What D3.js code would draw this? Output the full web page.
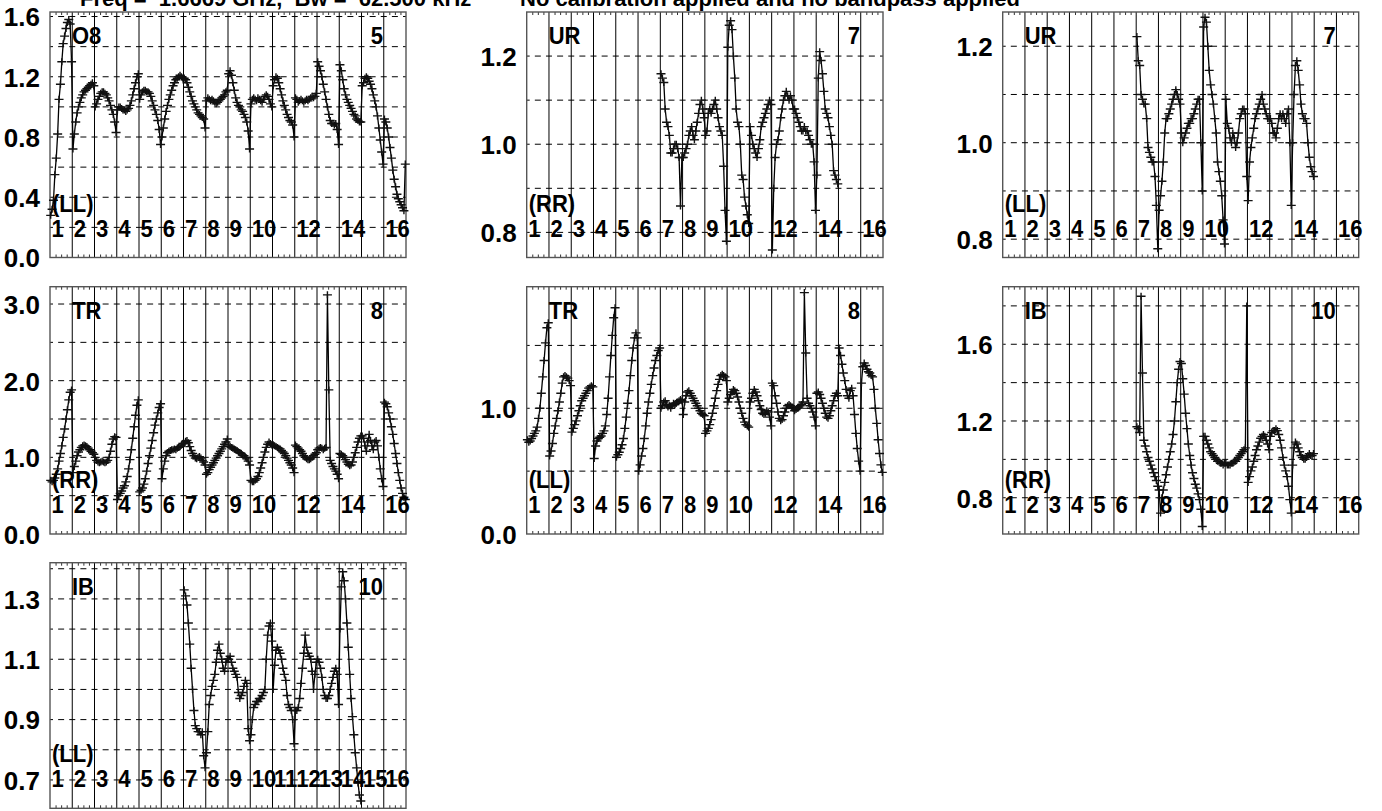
<!DOCTYPE html>
<html><head><meta charset="utf-8">
<script src="https://cdn.jsdelivr.net/npm/d3@7"></script>
<style>
body{margin:0;background:#fff;}
svg text{font-family:"Liberation Sans",Arial,Helvetica,sans-serif;font-weight:bold;fill:#000;}
</style></head><body>
<svg id="c" width="1382" height="811"></svg>
<script>
const titleLeft = "Freq =  1.6669 GHz,  Bw =  62.500 kHz ";
const titleRight = "No calibration applied and no bandpass applied";
const ifLabels = ["1","2","3","4","5","6","7","8","9","10","11","12","13","14","15","16"];
const ifLabelsShort = ["1","2","3","4","5","6","7","8","9","10","","12","","14","","16"];
const N = null;

// ---- panel 1 : O8, antenna 5, LL ----
const O8_5_LL = [
 [0.28,0.32,0.38,0.55,0.66,0.82,1.05,1.15,1.30,1.42,1.47,1.52,1.56,1.58,1.55,1.30],
 [0.72,0.82,0.90,0.96,1.00,1.03,1.06,1.08,1.10,1.11,1.12,1.13,1.14,1.15,1.16,1.14],
 [1.00,1.02,1.05,1.07,1.09,1.10,1.10,1.09,1.08,1.06,1.04,1.01,0.98,0.95,0.90,0.83],
 [0.98,1.00,1.00,0.99,0.98,0.98,0.97,0.98,0.99,1.01,1.04,1.08,1.12,1.16,1.20,1.22],
 [1.05,1.08,1.10,1.11,1.11,1.10,1.10,1.09,1.07,1.04,1.01,0.98,0.95,0.91,0.85,0.75],
 [0.80,0.86,0.92,0.97,1.01,1.05,1.08,1.11,1.14,1.16,1.18,1.19,1.20,1.21,1.20,1.19],
 [1.19,1.18,1.16,1.13,1.10,1.07,1.04,1.02,1.00,0.98,0.96,0.95,0.94,0.93,0.92,0.86],
 [1.04,1.06,1.05,1.04,1.05,1.04,1.03,1.02,1.03,1.04,1.05,1.06,1.07,1.08,1.10,1.11],
 [1.22,1.24,1.21,1.16,1.11,1.06,1.03,1.01,1.00,0.98,0.97,0.95,0.93,0.90,0.84,0.72],
 [1.02,1.05,1.06,1.05,1.04,1.06,1.05,1.04,1.03,1.05,1.07,1.08,1.07,1.05,1.02,1.00],
 [1.14,1.18,1.20,1.19,1.16,1.12,1.08,1.04,1.01,0.98,0.95,0.93,0.91,0.90,0.88,0.80],
 [1.06,1.05,1.03,1.04,1.05,1.04,1.03,1.04,1.05,1.04,1.05,1.06,1.07,1.06,1.07,1.09],
 [1.30,1.27,1.24,1.20,1.15,1.10,1.05,1.00,0.95,0.91,0.89,0.89,0.88,0.89,0.85,0.75],
 [1.28,1.24,1.18,1.12,1.08,1.05,1.03,1.01,0.99,0.97,0.95,0.94,0.92,0.91,0.90,0.90],
 [1.14,1.16,1.19,1.20,1.19,1.17,1.15,1.12,1.08,1.04,1.00,0.94,0.86,0.78,0.70,0.62],
 [0.92,0.90,0.86,0.80,0.73,0.66,0.58,0.52,0.47,0.42,0.39,0.37,0.35,0.33,0.31,0.62]
];
// ---- panel 2 : UR, antenna 7, RR ----
const UR_7_RR = [N,N,N,N,N,N,
 [1.16,1.15,1.14,1.08,1.05,1.04,1.02,0.98,0.98,0.99,1.00,1.00,0.99,0.97,0.86,0.97],
 [0.97,0.98,0.99,1.00,1.02,1.03,1.04,1.02,1.01,1.03,1.05,1.07,1.09,1.10,1.08,1.06],
 [1.02,1.03,1.07,1.08,1.07,1.08,1.09,1.10,1.08,1.06,1.04,1.03,1.02,0.95,0.85,0.78],
 [1.22,1.27,1.28,1.26,1.20,1.15,1.08,1.05,1.04,1.00,0.93,0.92,0.88,0.86,0.84,0.82],
 [1.04,1.02,1.00,0.99,0.98,0.97,0.99,1.01,1.04,1.05,1.06,1.07,1.08,1.09,1.10,1.09],
 [0.76,0.90,0.97,1.00,1.01,1.03,1.06,1.08,1.10,1.11,1.12,1.11,1.10,1.11,1.10,1.08],
 [1.08,1.07,1.06,1.05,1.04,1.03,1.03,1.04,1.03,1.03,1.02,1.01,1.00,1.00,0.96,0.85],
 [0.93,1.15,1.21,1.19,1.16,1.12,1.08,1.07,1.06,1.04,1.02,1.00,0.94,0.93,0.92,0.91],
 N,N];
// ---- panel 3 : UR, antenna 7, LL ----
const UR_7_LL = [N,N,N,N,N,N,
 [1.22,1.17,1.16,1.10,1.09,1.08,1.08,1.05,0.99,0.98,0.97,0.96,0.96,0.93,0.87,0.78],
 [0.86,0.89,0.92,0.96,1.02,1.05,1.05,1.06,1.07,1.08,1.09,1.10,1.11,1.10,1.09,1.08],
 [1.02,1.00,1.01,1.02,1.03,1.04,1.04,1.05,1.05,1.06,1.07,1.08,1.09,1.09,1.00,0.90],
 [1.24,1.26,1.25,1.20,1.15,1.12,1.10,1.08,1.05,1.02,0.96,0.94,0.92,0.89,0.84,0.79],
 [1.09,1.04,1.03,1.01,1.00,1.02,1.01,0.99,1.00,1.02,1.05,1.06,1.07,1.07,1.06,0.93],
 [0.88,0.96,0.99,1.01,1.03,1.05,1.06,1.07,1.08,1.09,1.10,1.08,1.07,1.06,1.05,1.05],
 [1.05,1.04,1.02,1.02,1.01,1.03,1.05,1.06,1.05,1.06,1.05,1.04,1.06,1.07,1.00,0.87],
 [1.00,1.10,1.16,1.17,1.15,1.12,1.08,1.06,1.05,1.05,1.04,1.00,0.97,0.95,0.94,0.93],
 N,N];
// ---- panel 4 : TR, antenna 8, RR ----
const TR_8_RR = [
 [0.70,0.68,0.70,0.73,0.78,0.85,0.95,1.05,1.15,1.26,1.37,1.50,1.62,1.75,1.85,1.88],
 [0.80,0.88,0.95,1.02,1.07,1.10,1.13,1.15,1.16,1.15,1.14,1.12,1.10,1.08,1.06,1.04],
 [1.00,0.96,0.94,0.93,0.94,0.95,0.94,0.93,0.94,0.96,1.00,1.08,1.17,1.24,1.27,1.26],
 [0.45,0.50,0.53,0.56,0.60,0.63,0.68,0.75,0.85,0.97,1.10,1.25,1.40,1.55,1.68,1.75],
 [0.55,0.57,0.60,0.65,0.72,0.82,0.92,1.02,1.12,1.22,1.32,1.42,1.50,1.58,1.65,1.70],
 [0.72,0.85,0.95,1.02,1.06,1.08,1.09,1.10,1.10,1.11,1.10,1.12,1.13,1.14,1.16,1.18],
 [1.18,1.21,1.22,1.19,1.14,1.09,1.05,1.02,0.99,0.98,1.00,1.01,0.99,0.96,0.94,0.90],
 [0.78,0.80,0.84,0.87,0.90,0.93,0.96,0.99,1.02,1.05,1.08,1.11,1.14,1.17,1.20,1.24],
 [1.16,1.14,1.13,1.12,1.11,1.10,1.09,1.07,1.06,1.05,1.03,1.02,1.00,0.98,0.95,0.90],
 [0.70,0.68,0.68,0.70,0.72,0.75,0.80,0.86,0.93,1.00,1.07,1.13,1.17,1.20,1.18,1.16],
 [1.16,1.15,1.14,1.13,1.12,1.11,1.09,1.07,1.05,1.02,0.99,0.96,0.93,0.90,0.86,0.80],
 [1.16,1.14,1.12,1.10,1.08,1.05,1.02,1.00,0.98,0.97,0.97,0.98,1.00,1.02,1.04,1.06],
 [1.10,1.12,1.13,1.12,1.10,1.12,1.13,3.12,1.88,0.96,0.92,0.88,0.85,0.82,0.78,0.72],
 [1.05,1.04,1.02,1.00,0.97,0.94,0.91,0.89,0.90,0.94,1.00,1.06,1.13,1.20,1.25,1.28],
 [1.28,1.25,1.15,1.08,1.20,1.30,1.22,1.15,1.10,1.20,1.22,1.15,1.00,0.85,0.72,0.62],
 [1.72,1.70,1.66,1.58,1.50,1.40,1.30,1.18,1.05,0.92,0.80,0.70,0.60,0.53,0.48,0.45]
];
// ---- panel 5 : TR, antenna 8, LL ----
const TR_8_LL = [
 [0.75,0.73,0.74,0.76,0.78,0.80,0.82,0.85,0.92,1.00,1.12,1.25,1.38,1.52,1.64,1.68],
 [0.62,0.66,0.72,0.80,0.86,0.92,0.98,1.05,1.12,1.20,1.25,1.26,1.25,1.24,1.22,1.18],
 [0.81,0.84,0.87,0.90,0.94,0.98,1.02,1.06,1.08,1.10,1.12,1.14,1.16,1.17,1.18,1.17],
 [0.60,0.70,0.74,0.76,0.77,0.78,0.80,0.82,0.86,0.95,1.08,1.25,1.42,1.58,1.72,1.80],
 [0.61,0.63,0.65,0.68,0.71,0.76,0.84,0.93,1.04,1.14,1.26,1.38,1.48,1.56,1.60,1.56],
 [0.50,0.55,0.62,0.68,0.76,0.86,0.96,1.05,1.12,1.19,1.26,1.32,1.38,1.42,1.46,1.48],
 [1.00,1.02,1.05,1.06,1.03,1.01,1.02,1.00,1.02,1.04,1.03,1.04,1.05,1.06,1.07,1.06],
 [0.95,1.05,1.10,1.13,1.14,1.12,1.10,1.08,1.06,1.04,1.02,1.00,0.98,0.96,0.95,0.94],
 [0.80,0.82,0.84,0.87,0.91,0.96,1.02,1.08,1.14,1.19,1.23,1.26,1.27,1.26,1.25,1.22],
 [1.05,1.08,1.11,1.13,1.15,1.14,1.12,1.09,1.05,1.00,0.96,0.92,0.89,0.87,0.86,0.85],
 [1.05,1.08,1.12,1.15,1.13,1.10,1.06,1.02,0.99,0.96,0.95,0.96,0.98,0.97,0.93,0.86],
 [1.20,1.18,1.10,1.04,0.97,0.92,0.90,0.91,0.94,0.97,1.00,1.02,1.03,1.02,1.01,1.00],
 [0.98,0.99,1.00,1.01,1.02,1.03,1.05,1.92,1.44,1.08,1.04,1.02,1.00,0.97,0.93,0.86],
 [1.12,1.13,1.11,1.08,1.04,1.00,0.96,0.93,0.92,0.94,0.98,1.02,1.06,1.10,1.12,1.10],
 [1.48,1.42,1.35,1.28,1.22,1.15,1.10,1.08,1.14,1.16,1.10,0.95,0.80,0.68,0.58,0.50],
 [1.20,1.33,1.36,1.34,1.31,1.29,1.28,1.26,1.25,1.15,1.00,0.88,0.75,0.64,0.55,0.49]
];
// ---- panel 6 : IB, antenna 10, RR ----
const IB_10_RR = [N,N,N,N,N,N,
 [1.17,1.16,1.14,1.85,1.45,1.10,1.07,1.04,1.01,0.99,0.97,0.95,0.93,0.91,0.89,0.86],
 [0.84,0.72,0.80,0.84,0.88,0.92,0.96,1.00,1.04,1.08,1.13,1.20,1.30,1.40,1.47,1.51],
 [1.50,1.42,1.34,1.24,1.16,1.08,1.02,0.97,0.93,0.90,0.87,0.85,0.82,0.79,0.74,0.65],
 [1.12,1.12,1.10,1.08,1.06,1.04,1.03,1.02,1.01,1.00,0.99,0.99,0.98,0.98,0.97,0.98],
 [0.98,0.97,0.97,0.97,0.98,0.98,0.99,0.99,1.00,1.01,1.02,1.03,1.04,1.05,1.06,1.80],
 [0.88,0.91,0.94,0.96,0.99,1.02,1.05,1.07,1.09,1.11,1.12,1.13,1.12,1.10,1.08,1.05],
 [1.12,1.14,1.15,1.15,1.16,1.15,1.13,1.10,1.06,1.01,0.97,0.94,0.91,0.86,0.79,0.72],
 [0.97,1.06,1.09,1.08,1.06,1.04,1.02,1.01,1.00,1.00,1.01,1.02,1.03,1.02,1.02,1.03],
 N,N];
// ---- panel 7 : IB, antenna 10, LL ----
const IB_10_LL = [N,N,N,N,N,N,
 [1.33,1.31,1.28,1.22,1.15,1.07,1.00,0.93,0.88,0.87,0.86,0.86,0.85,0.86,0.78,0.74],
 [0.79,0.86,0.95,0.98,1.01,1.03,1.05,1.09,1.13,1.15,1.12,1.10,1.07,1.06,1.09,1.10],
 [1.10,1.11,1.09,1.07,1.06,1.05,1.04,0.99,0.97,0.98,0.99,1.01,1.03,1.02,0.87,0.83],
 [0.85,0.90,0.94,0.95,0.96,0.96,0.97,0.97,0.98,0.99,1.00,1.10,1.18,1.21,1.22,1.16],
 [1.00,1.08,1.13,1.14,1.13,1.12,1.10,1.07,1.05,1.03,0.98,0.95,0.94,0.93,0.90,0.82],
 [0.93,0.93,0.94,0.97,1.02,1.07,1.12,1.18,1.14,1.12,1.11,1.10,1.06,1.00,1.05,1.09],
 [1.10,1.09,1.07,1.04,1.00,0.98,0.97,0.97,0.98,1.00,1.02,1.04,1.06,1.07,1.05,0.95],
 [1.20,1.34,1.39,1.36,1.30,1.22,1.14,1.05,0.97,0.91,0.85,0.79,0.74,0.69,0.65,0.63],
 N,N];

// tick values per panel
const tick1 = [0.0,0.4,0.8,1.2,1.6],  grid1 = [0.2,0.4,0.6,0.8,1.0,1.2,1.4,1.6];
const tick2 = [0.8,1.0,1.2],          grid2 = [0.8,0.9,1.0,1.1,1.2];
const tick4 = [0.0,1.0,2.0,3.0],      grid4 = [0.5,1.0,1.5,2.0,2.5,3.0];
const tick5 = [0.0,1.0],              grid5 = [0.5,1.0,1.5];
const tick6 = [0.8,1.2,1.6],          grid6 = [0.8,1.0,1.2,1.4,1.6,1.8];
const tick7 = [0.7,0.9,1.1,1.3],      grid7 = [0.7,0.8,0.9,1.0,1.1,1.2,1.3,1.4];

const panels = [
 {src:"O8", ant:"5",  pol:"(LL)", data:O8_5_LL,  ticks:tick1, grid:grid1, dom:[0,1.63],     box:[50,12,406,257.5],        labs:ifLabelsShort},
 {src:"UR", ant:"7",  pol:"(RR)", data:UR_7_RR,  ticks:tick2, grid:grid2, dom:[0.743,1.30], box:[526.7,12,883,257.5],     labs:ifLabelsShort},
 {src:"UR", ant:"7",  pol:"(LL)", data:UR_7_LL,  ticks:tick2, grid:grid2, dom:[0.762,1.271],box:[1002.7,12,1358.7,257.5], labs:ifLabelsShort},
 {src:"TR", ant:"8",  pol:"(RR)", data:TR_8_RR,  ticks:tick4, grid:grid4, dom:[0,3.226],    box:[50,286.7,406,534],       labs:ifLabelsShort},
 {src:"TR", ant:"8",  pol:"(LL)", data:TR_8_LL,  ticks:tick5, grid:grid5, dom:[0,1.967],    box:[526.7,286.7,883,534],    labs:ifLabelsShort},
 {src:"IB", ant:"10", pol:"(RR)", data:IB_10_RR, ticks:tick6, grid:grid6, dom:[0.611,1.90], box:[1002.7,286.7,1358.7,534],labs:ifLabelsShort},
 {src:"IB", ant:"10", pol:"(LL)", data:IB_10_LL, ticks:tick7, grid:grid7, dom:[0.606,1.42], box:[50,562.7,406,808.3],     labs:ifLabels}
];

const svg = d3.select("#c");
const NIF = 16, NCH = 16;
const FS = 22, FSY = 26, VS = 1.12;

svg.append("text").attr("x",80).attr("y",6).attr("font-size",FS)
  .attr("xml:space","preserve").style("white-space","pre").text(titleLeft);
svg.append("text").attr("x",520).attr("y",6).attr("font-size",FS).text(titleRight);

function tallText(g, x, y, s, anchor){
  return g.append("text").attr("transform",`translate(${x},${y}) scale(1,${VS})`)
    .attr("font-size",FS).attr("text-anchor",anchor||"start").text(s);
}

panels.forEach(p => {
  const [x0,y0,x1,y1] = p.box;
  const x = d3.scaleLinear().domain([0, NIF*NCH]).range([x0, x1]);
  const y = d3.scaleLinear().domain(p.dom).range([y1, y0]);
  const g = svg.append("g");
  const ifw = (x1-x0)/NIF;

  // dashed horizontal grid
  g.selectAll("line.grid").data(p.grid).join("line")
    .attr("x1",x0).attr("x2",x1).attr("y1",d=>y(d)).attr("y2",d=>y(d))
    .attr("stroke","#000").attr("stroke-width",1)
    .attr("stroke-dasharray",`6,${ifw/2-6}`).attr("stroke-dashoffset",3);

  // IF boundary lines
  g.selectAll("line.ifb").data(d3.range(1,NIF)).join("line")
    .attr("x1",d=>x(d*NCH)).attr("x2",d=>x(d*NCH)).attr("y1",y0).attr("y2",y1)
    .attr("stroke","#000").attr("stroke-width",1);

  // minor ticks top and bottom
  const minor = d3.range(0,NIF*NCH,NCH/4).filter(v=>v%NCH!==0);
  g.append("g").attr("transform",`translate(0,${y0})`)
    .call(d3.axisTop(x).tickValues(minor).tickSize(-3).tickFormat(""))
    .call(a=>a.select(".domain").remove())
    .selectAll("line").attr("stroke","#333");
  g.append("g").attr("transform",`translate(0,${y1})`)
    .call(d3.axisBottom(x).tickValues(minor).tickSize(-3).tickFormat(""))
    .call(a=>a.select(".domain").remove())
    .selectAll("line").attr("stroke","#333");

  // frame
  g.append("rect").attr("x",x0).attr("y",y0).attr("width",x1-x0).attr("height",y1-y0)
    .attr("fill","none").attr("stroke","#555").attr("stroke-width",1.4);

  // y axis labels
  const ya = g.append("g").attr("transform",`translate(${x0},0)`)
    .call(d3.axisLeft(y).tickValues(p.ticks).tickSize(0).tickPadding(10).tickFormat(d3.format(".1f")));
  ya.select(".domain").remove();
  ya.selectAll("text").attr("font-size",FSY).attr("font-family",null).attr("dy","0.36em");

  // data: line + "+" markers
  const pts = [];
  p.data.forEach((arr,k)=>{
    if(!arr){ pts.push(null); return; }
    arr.forEach((v,c)=>pts.push({ch:k*NCH+c+0.5, v:v}));
  });
  const line = d3.line().defined(d=>d!==null).x(d=>x(d.ch)).y(d=>y(d.v));
  g.append("path").attr("d",line(pts)).attr("fill","none").attr("stroke","#000").attr("stroke-width",1.3);
  g.selectAll("path.mk").data(pts.filter(d=>d)).join("path")
    .attr("d",d=>`M${x(d.ch)-4.5},${y(d.v)}h9M${x(d.ch)},${y(d.v)-3.5}v7`)
    .attr("stroke","#111").attr("stroke-width",1.4).attr("fill","none");

  // IF numbers
  p.labs.forEach((d,i)=>tallText(g, x(i*NCH)+1.5, y1-21, d));

  // annotations
  tallText(g, x0+22, y0+32, p.src);
  tallText(g, x1-23, y0+32, p.ant, "end");
  tallText(g, x0+2, y1-46, p.pol);
});
</script>
</body></html>
